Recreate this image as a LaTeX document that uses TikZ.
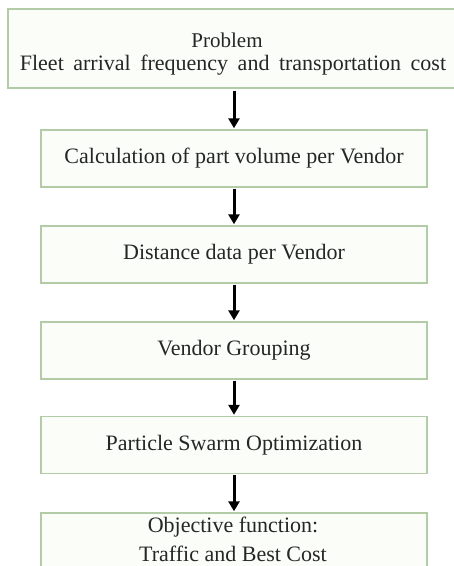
\documentclass[tikz,border=0pt]{standalone}
\usepackage{fontspec}
\setmainfont{Liberation Serif}
\usetikzlibrary{arrows.meta}
\definecolor{boxline}{HTML}{B3CBA6}
\definecolor{boxfill}{HTML}{FBFDF8}
\tikzset{
  stepbox/.style={draw=boxline, line width=1.4pt, fill=boxfill, minimum width=386pt, minimum height=57pt, inner sep=0pt, align=center, font=\fontsize{22}{29}\selectfont, text=black!85},
  label/.style={inner sep=0pt, text=black!85, font=\fontsize{22}{26}\selectfont},
  flow/.style={line width=3pt, -{Triangle[length=10pt,width=11pt]}, shorten >=1pt}
}
\begin{document}
\begin{tikzpicture}[x=1pt,y=-1pt]
\useasboundingbox[fill=white] (0,0) rectangle (454,566);
\node[stepbox, minimum width=452pt, minimum height=79pt] (p) at (234,48.5) {};
\node[label, font=\fontsize{21}{24}\selectfont] (p1) at (227,40) {Problem};
\node[label] (p2) at (233,65) {\spaceskip=9.5pt plus 1pt Fleet arrival frequency and transportation cost};
\node[stepbox] (c) at (234,158.5) {Calculation of part volume per Vendor};
\node[stepbox] (d) at (234,254.5) {Distance data per Vendor};
\node[stepbox] (g) at (234,350.5) {Vendor Grouping};
\node[stepbox] (s) at (234,445) {Particle Swarm Optimization};
\node[stepbox] (o) at (234,541.5) {};
\node[label] (o1) at (233,527) {Objective function:};
\node[label] (o2) at (233,554) {Traffic and Best Cost};
\draw[flow] ([yshift=-2pt]p.south) -- (c.north);
\draw[flow] ([yshift=-1pt]c.south) -- (d.north);
\draw[flow] ([yshift=-1pt]d.south) -- (g.north);
\draw[flow] ([yshift=-1pt]g.south) -- (s.north);
\draw[flow] ([yshift=-1pt]s.south) -- (o.north);
\end{tikzpicture}
\end{document}
